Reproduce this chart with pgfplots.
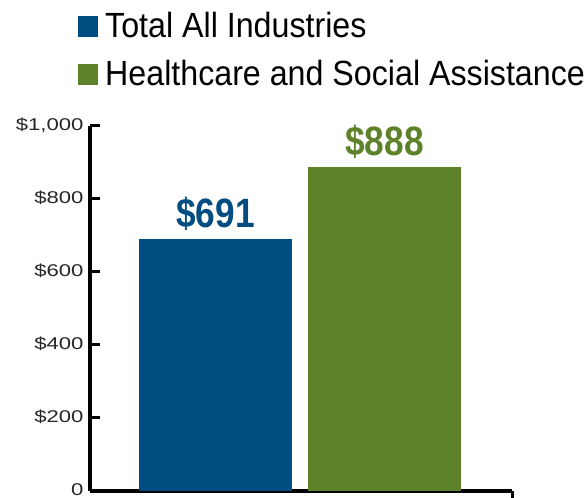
\documentclass[border=0pt]{standalone}
\usepackage{fontspec}
\usepackage{pgfplots}
\pgfplotsset{compat=1.18}
\setmainfont{Liberation Sans}
\newfontfamily\legfont[FakeStretch=0.92]{Liberation Sans}
\newfontfamily\tickfont[FakeStretch=1.3]{Liberation Sans}
\newfontfamily\barfont[FakeStretch=0.86]{Liberation Sans Bold}
\definecolor{cblue}{HTML}{014C80}
\definecolor{cgreen}{HTML}{5E8229}
\begin{document}
\begin{tikzpicture}
\path[use as bounding box] (-90pt,-7pt) rectangle (497pt,491pt);
\begin{axis}[
  scale only axis,
  width=422pt, height=365pt,
  xmin=-0.743, xmax=1.754,
  ymin=0, ymax=1000,
  axis x line=bottom, axis y line=left,
  axis line style={-, line width=3.2pt, black},
  xtick=\empty,
  extra x ticks={1.754}, extra x tick labels={},
  extra x tick style={major tick length=10pt},
  ytick={0,200,400,600,800,1000},
  yticklabels={0,\$200,\$400,\$600,\$800,\$1{,}000},
  yticklabel style={font=\tickfont\fontsize{17}{20}\selectfont, text=black!85, xshift=-3pt, yshift=1pt},
  tick align=inside,
  major tick length=10pt,
  major tick style={line width=3pt, black},
  every tick/.append style={line width=3pt, black},
  clip=false,
  ybar, bar shift=0pt, bar width=0.905,
  point meta=explicit symbolic,
  nodes near coords={\$\pgfplotspointmeta},
  nodes near coords style={anchor=base, inner sep=0pt, yshift=11pt, font=\barfont\fontsize{41}{45}\selectfont},
  legend style={at={(rel axis cs:-0.0284,1.3123)}, anchor=north west, draw=none, fill=none, inner sep=0pt, row sep=16pt, column sep=7pt,
    nodes={inner sep=0pt, text height=25pt, text depth=7pt, font=\legfont\fontsize{35}{40}\selectfont}},
  legend cell align=left,
  legend image code/.code={\fill[#1] (0pt,-9pt) rectangle (20pt,12pt);},
]
\addplot[fill=cblue, draw=none, nodes near coords style={text=cblue}] coordinates {(0,691) [691]};
\addlegendentry{Total All Industries}
\addplot[fill=cgreen, draw=none, nodes near coords style={text=cgreen}] coordinates {(1,888) [888]};
\addlegendentry{Healthcare and Social Assistance}
\end{axis}
\end{tikzpicture}
\end{document}
